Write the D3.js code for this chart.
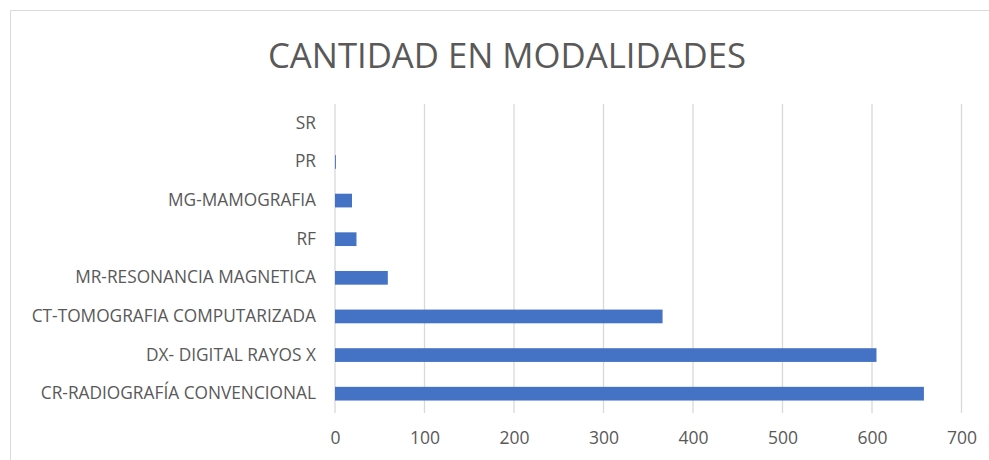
<!DOCTYPE html>
<html>
<head>
<meta charset="utf-8">
<script src="https://cdn.jsdelivr.net/npm/d3@7"></script>
<style>
  body { margin: 0; background: #fff; }
  svg { display: block; font-family: "Open Sans", "Noto Sans", sans-serif; }
  .grid line { stroke: #d9d9d9; stroke-width: 1.3; }
  .x.axis text, .y.axis text { fill: #595959; }
</style>
</head>
<body>
<div id="chart"></div>
<script>
(function () {

var title = "CANTIDAD EN MODALIDADES";

// categories top to bottom
var categories = ["SR", "PR", "MG-MAMOGRAFIA", "RF", "MR-RESONANCIA MAGNETICA",
    "CT-TOMOGRAFIA COMPUTARIZADA", "DX- DIGITAL RAYOS X", "CR-RADIOGRAFÍA CONVENCIONAL"];
var values = [0, 1, 19, 24, 59, 366, 605, 658];
var xTicks = [0, 100, 200, 300, 400, 500, 600, 700];

var W = 989, H = 460;
var margin = { top: 104, right: 27.5, bottom: 47, left: 335 };
var width = W - margin.left - margin.right;
var height = H - margin.top - margin.bottom;

var x = d3.scaleLinear().domain([0, 700]).range([0, width]);
var y = d3.scaleBand().domain(categories).range([0, height])
    .paddingInner(0.645).paddingOuter(0.3225);

var svg = d3.select("#chart").append("svg")
    .attr("width", W)
    .attr("height", H);

// chart area border (only top and left visible in the crop)
svg.append("path")
    .attr("d", "M10.5," + H + "V10.5H" + W)
    .attr("fill", "none")
    .attr("stroke", "#d9d9d9")
    .attr("stroke-width", 1);

svg.append("text")
    .attr("x", 507)
    .attr("y", 68)
    .attr("text-anchor", "middle")
    .attr("fill", "#595959")
    .style("font-size", "34px")
    .attr("textLength", 478)
    .attr("lengthAdjust", "spacingAndGlyphs")
    .text(title);

var g = svg.append("g")
    .attr("transform", "translate(" + margin.left + "," + margin.top + ")");

// vertical gridlines
g.append("g").attr("class", "grid")
    .selectAll("line")
    .data(xTicks)
    .enter().append("line")
    .attr("x1", function(d) { return x(d); })
    .attr("x2", function(d) { return x(d); })
    .attr("y1", 0)
    .attr("y2", height);

// bars
g.selectAll(".bar")
    .data(values)
    .enter().append("rect")
    .attr("class", "bar")
    .attr("x", x(0))
    .attr("y", function(d, i) { return y(categories[i]); })
    .attr("width", function(d) { return x(d) - x(0); })
    .attr("height", y.bandwidth())
    .attr("fill", "#4472c4");

// axes
var xAxis = d3.axisBottom(x).tickValues(xTicks).tickSize(0).tickPadding(19);
var yAxis = d3.axisLeft(y).tickSize(0).tickPadding(19);

g.append("g")
    .attr("class", "x axis")
    .attr("transform", "translate(0," + height + ")")
    .call(xAxis)
    .call(function(s) { s.select(".domain").remove(); })
    .selectAll("text")
    .style("font-size", "17.5px")
    .style("font-family", "\"Open Sans\", sans-serif");

g.append("g")
    .attr("class", "y axis")
    .call(yAxis)
    .call(function(s) { s.select(".domain").remove(); })
    .selectAll("text")
    .style("font-size", "17.3px")
    .style("font-family", "\"Open Sans\", sans-serif");

})();
</script>
</body>
</html>
